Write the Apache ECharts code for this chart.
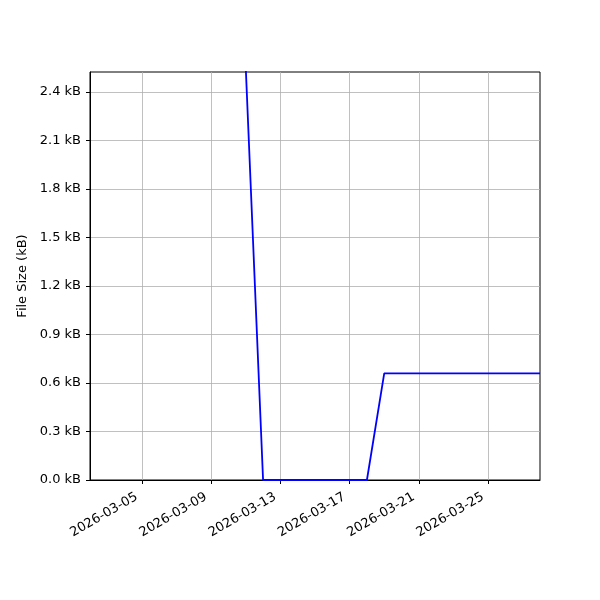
<!DOCTYPE html>
<html>
<head>
<meta charset="utf-8">
<script src="https://cdn.jsdelivr.net/npm/echarts@6/dist/echarts.min.js"></script>
<style>
  html, body { margin: 0; padding: 0; background: #fff; }
  #chart { width: 600px; height: 600px; }
</style>
</head>
<body>
<div id="chart"></div>
<script>
// data (dates + file size in kB)
const dates = [
  '2026-03-11', '2026-03-12', '2026-03-13', '2026-03-14', '2026-03-15',
  '2026-03-16', '2026-03-17', '2026-03-18', '2026-03-19', '2026-03-20',
  '2026-03-21', '2026-03-22', '2026-03-23', '2026-03-24', '2026-03-25',
  '2026-03-26', '2026-03-27', '2026-03-28'
]
const sizes = [
  2.55, 0, 0, 0, 0,
  0, 0, 0, 0.66, 0.66,
  0.66, 0.66, 0.66, 0.66, 0.66,
  0.66, 0.66, 0.66
]
const xTickLabels = ['2026-03-05', '2026-03-09', '2026-03-13', '2026-03-17', '2026-03-21', '2026-03-25']
const yTicks = [0, 0.3, 0.6, 0.9, 1.2, 1.5, 1.8, 2.1, 2.4]
const xRange = ['2026-03-02', '2026-03-28']
const yMax = 2.524

const ts = d => Date.parse(d + 'T00:00:00Z')
const pad = n => (n < 10 ? '0' : '') + n
const fmtDate = v => {
  const d = new Date(v)
  return d.getUTCFullYear() + '-' + pad(d.getUTCMonth() + 1) + '-' + pad(d.getUTCDate())
}

const chart = echarts.init(document.getElementById('chart'))
const font = 'DejaVu Sans'

const option = {
  animation: false,
  grid: {
    left: 90, right: 60, top: 72, bottom: 120,
    show: true, borderColor: '#000', borderWidth: 1, backgroundColor: 'transparent'
  },
  xAxis: {
    type: 'value',
    min: ts(xRange[0]),
    max: ts(xRange[1]),
    axisLine: { show: true, onZero: false, lineStyle: { color: '#000', width: 1 } },
    axisTick: {
      show: true, length: 4, lineStyle: { color: '#000' },
      customValues: xTickLabels.map(ts)
    },
    axisLabel: {
      customValues: xTickLabels.map(ts),
      rotate: 30,
      formatter: v => fmtDate(v),
      padding: [0, 6, 0, 0],
      color: '#000', fontFamily: font, fontSize: 13, margin: 13
    },
    splitLine: { show: true, lineStyle: { color: '#b0b0b0', width: 0.8 } }
  },
  yAxis: {
    type: 'value',
    min: 0,
    max: yMax,
    name: 'File Size (kB)',
    nameLocation: 'middle',
    nameGap: 55,
    nameTextStyle: { color: '#000', fontFamily: font, fontSize: 13 },
    axisLine: { show: true, lineStyle: { color: '#000', width: 1 } },
    axisTick: {
      show: true, length: 4, lineStyle: { color: '#000' },
      customValues: yTicks
    },
    axisLabel: {
      customValues: yTicks,
      formatter: v => v.toFixed(1) + ' kB',
      color: '#000', fontFamily: font, fontSize: 13, margin: 9
    },
    splitLine: { show: true, lineStyle: { color: '#b0b0b0', width: 0.8 } }
  },
  series: [
    {
      type: 'line',
      data: dates.map((d, i) => [ts(d), sizes[i]]),
      showSymbol: false,
      clip: true,
      lineStyle: { color: '#0000ff', width: 1.8 },
      z: 3
    }
  ]
}

chart.setOption(option)
</script>
</body>
</html>
